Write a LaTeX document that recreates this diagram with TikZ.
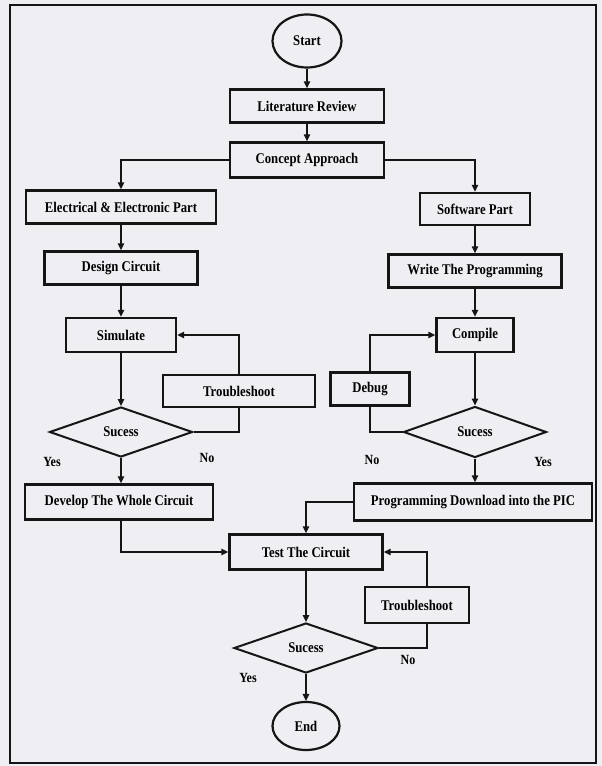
\documentclass[tikz,border=0pt]{standalone}
\usepackage{fontspec}
\setmainfont{Liberation Serif}
\newfontfamily\flowfont[FakeStretch=0.86]{Liberation Serif}
\usepackage{tikz}
\usetikzlibrary{
  arrows.meta,
  positioning,
  shapes.geometric
}
\definecolor{flowPaper}{HTML}{EEEEF3}
\definecolor{flowInk}{HTML}{151515}
\tikzset{
  flowBox/.style={
    draw=flowInk,
    line width=2.4pt,
    fill=flowPaper,
    align=center,
    font=\flowfont\bfseries\fontsize{14.8}{17}\selectfont,
    inner sep=0pt
  },
  flowDecision/.style={
    diamond,
    draw=flowInk,
    line width=2pt,
    fill=flowPaper,
    inner sep=0pt,
    font=\flowfont\bfseries\fontsize{14.8}{17}\selectfont
  },
  flowTerminal/.style={
    ellipse,
    draw=flowInk,
    line width=2.2pt,
    fill=flowPaper,
    inner sep=0pt,
    font=\flowfont\bfseries\fontsize{14.8}{17}\selectfont
  },
  flowArrow/.style={-{Triangle[length=7pt,width=6.5pt]}, line width=1.4pt, flowInk},
  flowLine/.style={line width=1.4pt, flowInk},
  flowLabel/.style={font=\flowfont\bfseries\fontsize{14}{16}\selectfont, inner sep=1pt}
}
\begin{document}
\begin{tikzpicture}[x=1pt,y=-1pt]
  \fill[flowPaper] (0,0) rectangle (602,766);
  \useasboundingbox (0,0) rectangle (602,766);
  \draw[line width=1.3pt, flowInk] (10,5) rectangle (596,763);

  \node[flowTerminal, minimum width=69pt, minimum height=53pt] (start) at (307,41) {Start};
  \node[flowBox, minimum width=154pt, minimum height=33pt] (litReview) at (307,106) {Literature Review};
  \node[flowBox, minimum width=154pt, minimum height=35pt] (concept) at (307,160) {Concept Approach};

  \node[flowBox, minimum width=190pt, minimum height=33pt] (elecPart) at (121,207) {Electrical \& Electronic Part};
  \node[flowBox, minimum width=153pt, minimum height=33pt] (designCkt) at (121,268) {Design Circuit};
  \node[flowBox, minimum width=110pt, minimum height=34pt] (simulate) at (121,335) {Simulate};
  \node[flowBox, minimum width=152pt, minimum height=32pt] (troubleA) at (239,391) {Troubleshoot};
  \node[flowDecision, minimum width=143pt, minimum height=50pt] (successA) at (121,432) {Sucess};
  \node[flowBox, minimum width=188pt, minimum height=35pt] (developCkt) at (119,502) {Develop The Whole Circuit};

  \node[flowBox, minimum width=110pt, minimum height=32pt] (softPart) at (475,209) {Software Part};
  \node[flowBox, minimum width=173pt, minimum height=33pt] (writeProg) at (475,271) {Write The Programming};
  \node[flowBox, minimum width=77pt, minimum height=34pt] (compile) at (475,335) {Compile};
  \node[flowBox, minimum width=79pt, minimum height=33pt] (debug) at (370,389) {Debug};
  \node[flowDecision, minimum width=143pt, minimum height=51pt] (successB) at (475,432) {Sucess};
  \node[flowBox, minimum width=238pt, minimum height=37pt] (progDownload) at (473,502) {Programming Download into the PIC};

  \node[flowBox, minimum width=153pt, minimum height=35pt] (testCkt) at (306,552) {Test The Circuit};
  \node[flowBox, minimum width=104pt, minimum height=36pt] (troubleB) at (417,605) {Troubleshoot};
  \node[flowDecision, minimum width=144pt, minimum height=50pt] (successC) at (306,648) {Sucess};
  \node[flowTerminal, minimum width=67pt, minimum height=48pt] (finish) at (306,726) {End};

  \node[flowLabel] (yesA) at (52,462) {Yes};
  \node[flowLabel] (noA) at (207,458) {No};
  \node[flowLabel] (noB) at (372,460) {No};
  \node[flowLabel] (yesB) at (543,462) {Yes};
  \node[flowLabel] (noC) at (408,660) {No};
  \node[flowLabel] (yesC) at (248,678) {Yes};

  \draw[flowArrow] (start) -- (litReview);
  \draw[flowArrow] (litReview) -- (concept);
  \draw[flowArrow] (concept.west) -| (elecPart.north);
  \draw[flowArrow] (concept.east) -| (softPart.north);

  \draw[flowArrow] (elecPart) -- (designCkt);
  \draw[flowArrow] (designCkt) -- (simulate);
  \draw[flowArrow] (simulate) -- (successA);
  \draw[flowLine] (successA.east) -| (troubleA.south);
  \draw[flowArrow] (troubleA.north) |- (simulate.east);
  \draw[flowArrow] (successA) -- (developCkt.north -| successA);

  \draw[flowArrow] (softPart) -- (writeProg);
  \draw[flowArrow] (writeProg) -- (compile);
  \draw[flowArrow] (compile) -- (successB);
  \draw[flowLine] (successB.west) -| (debug.south);
  \draw[flowArrow] (debug.north) |- (compile.west);
  \draw[flowArrow] (successB) -- (progDownload.north -| successB);

  \draw[flowArrow] (developCkt.south -| successA) |- (testCkt.west);
  \draw[flowArrow] (progDownload.west) -| (testCkt.north);
  \draw[flowArrow] (testCkt) -- (successC);
  \draw[flowLine] (successC.east) -| ([xshift=10pt]troubleB.south);
  \draw[flowArrow] ([xshift=10pt]troubleB.north) |- (testCkt.east);
  \draw[flowArrow] (successC) -- (finish);
\end{tikzpicture}
\end{document}
